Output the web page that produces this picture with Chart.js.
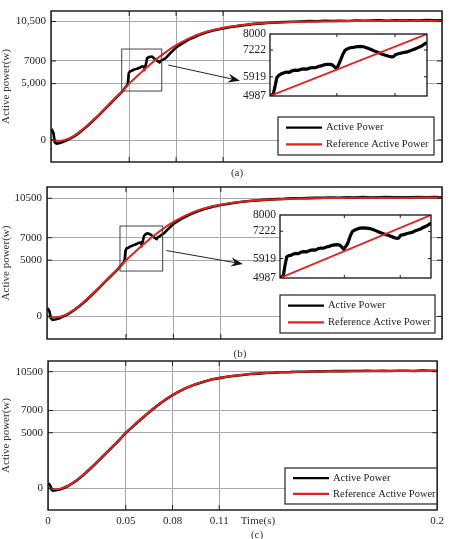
<!DOCTYPE html>
<html>
<head>
<meta charset="utf-8">
<script src="https://cdn.jsdelivr.net/npm/chart.js@4.4.1/dist/chart.umd.min.js"></script>
<style>
  html, body { margin: 0; padding: 0; background: #fff; }
  #wrap { position: relative; width: 449px; height: 539px; overflow: hidden; }
  canvas { position: absolute; }
</style>
</head>
<body>
<div id="wrap">
  <canvas id="chartA" style="left:0;top:-4px" width="449" height="184"></canvas>
  <canvas id="chartB" style="left:0;top:170px" width="449" height="189"></canvas>
  <canvas id="chartC" style="left:0;top:346px" width="449" height="193"></canvas>
  <canvas id="insetA" style="left:236px;top:20px" width="193" height="90"></canvas>
  <canvas id="insetB" style="left:246px;top:201px" width="187" height="91"></canvas>
</div>
<script>
// reference power (same in all three cases)
const timeRef = [0, 0.001, 0.002, 0.003, 0.005, 0.0075, 0.01, 0.0125, 0.015, 0.0175, 0.02, 0.0225, 0.025, 0.0275,
  0.03, 0.0325, 0.035, 0.0375, 0.04, 0.0425, 0.045, 0.0475, 0.05, 0.0525, 0.055, 0.0575, 0.06, 0.0625, 0.065,
  0.0675, 0.07, 0.0725, 0.075, 0.0775, 0.08, 0.085, 0.09, 0.095, 0.1, 0.105, 0.11, 0.115, 0.12, 0.125, 0.13,
  0.135, 0.14, 0.145, 0.15, 0.16, 0.17, 0.18, 0.19, 0.2, 0.21, 0.22, 0.23, 0.24, 0.25];
const refPower = [0, -10, -30, -50, -80, -50, 60, 200, 400, 630, 900, 1190, 1500, 1820,
  2150, 2500, 2850, 3200, 3550, 3900, 4250, 4620, 5000, 5330, 5650, 5970, 6280, 6580, 6880,
  7170, 7440, 7700, 7950, 8180, 8400, 8790, 9120, 9390, 9610, 9790, 9930, 10050, 10140, 10220, 10290,
  10340, 10380, 10410, 10440, 10480, 10510, 10530, 10540, 10550, 10555, 10560, 10560, 10565, 10565];

// measured active power
const timeBlack = [0, 0.0008, 0.0016, 0.0024, 0.0035, 0.005, 0.0075, 0.01, 0.0125, 0.015, 0.0175, 0.02, 0.0225,
  0.025, 0.0275, 0.03, 0.0325, 0.035, 0.0375, 0.04, 0.0425, 0.045, 0.0475, 0.0485, 0.0491, 0.0497, 0.0504,
  0.0515, 0.0528, 0.054, 0.0555, 0.057, 0.0583, 0.0592, 0.0599, 0.0606, 0.0614, 0.0623, 0.0634, 0.0646, 0.0658,
  0.067, 0.0682, 0.0694, 0.0701, 0.0711, 0.0726, 0.0741, 0.0755, 0.0775, 0.08, 0.0825, 0.085, 0.0875, 0.09,
  0.095, 0.1, 0.105, 0.11, 0.115, 0.12, 0.125, 0.13, 0.135, 0.14, 0.145, 0.15, 0.155, 0.16, 0.165, 0.17, 0.175,
  0.18, 0.185, 0.19, 0.195, 0.2, 0.205, 0.21, 0.215, 0.22, 0.225, 0.23, 0.235, 0.24, 0.245, 0.25];
const powerA = [750, 850, 600, -200, -320, -280, -180, -20, 140, 350, 590, 860, 1150,
  1460, 1790, 2120, 2470, 2820, 3170, 3520, 3870, 4220, 4650, 4820, 4980, 5900, 6060,
  6130, 6220, 6280, 6340, 6420, 6530, 6500, 6320, 6650, 7230, 7330, 7380, 7390, 7250,
  7110, 6980, 6890, 7010, 7080, 7180, 7360, 7580, 7850, 8200, 8430, 8650, 8850, 9020,
  9320, 9560, 9750, 9890, 10010, 10110, 10200, 10290, 10330, 10390, 10420, 10460, 10480, 10500, 10530, 10520, 10560,
  10540, 10570, 10550, 10590, 10560, 10580, 10600, 10570, 10610, 10580, 10600, 10590, 10620, 10600, 10610];
const powerB = [600, 650, 450, -150, -300, -260, -170, -10, 150, 360, 600, 870, 1160,
  1470, 1800, 2130, 2480, 2830, 3180, 3530, 3880, 4230, 4640, 4810, 4960, 5850, 6050,
  6110, 6230, 6290, 6380, 6460, 6560, 6570, 6360, 6660, 7150, 7300, 7380, 7360, 7250,
  7100, 6990, 6880, 7030, 7100, 7260, 7400, 7600, 7880, 8220, 8450, 8670, 8860, 9030,
  9330, 9570, 9760, 9900, 10020, 10120, 10210, 10280, 10340, 10380, 10430, 10450, 10490, 10510, 10520, 10540, 10550,
  10570, 10550, 10580, 10560, 10600, 10570, 10590, 10610, 10580, 10600, 10590, 10620, 10600, 10610, 10600];
const powerC = [450, 380, 200, -150, -220, -180, -110, 30, 180, 390, 620, 890, 1180,
  1490, 1810, 2140, 2490, 2840, 3190, 3540, 3890, 4240, 4610, 4760, 4850, 4940, 5040,
  5180, 5350, 5500, 5690, 5880, 6050, 6150, 6250, 6330, 6430, 6530, 6660, 6810, 6950,
  7090, 7220, 7360, 7430, 7530, 7690, 7840, 7980, 8160, 8390, 8600, 8780, 8950, 9110,
  9380, 9600, 9790, 9920, 10040, 10140, 10210, 10290, 10330, 10390, 10410, 10450, 10460, 10490, 10500, 10520, 10530,
  10540, 10560, 10550, 10570, 10560, 10580, 10570, 10590, 10570, 10580, 10590, 10570, 10600, 10580, 10590];

// zoomed windows (4987..8000 W)
const insetTime = [0.0485, 0.0488, 0.0491, 0.0494, 0.0497, 0.05, 0.0504, 0.0508, 0.0513, 0.0518, 0.0523, 0.0528,
  0.0533, 0.0538, 0.0543, 0.0548, 0.0553, 0.0558, 0.0563, 0.0568, 0.0573, 0.0578, 0.0583, 0.0588, 0.0592, 0.0596,
  0.0599, 0.0602, 0.0606, 0.061, 0.0614, 0.0618, 0.0623, 0.0628, 0.0634, 0.064, 0.0646, 0.0652, 0.0658, 0.0664,
  0.067, 0.0676, 0.0682, 0.0688, 0.0694, 0.0697, 0.0701, 0.0706, 0.0711, 0.0716, 0.0721, 0.0726, 0.0731, 0.0736,
  0.0741, 0.0746, 0.0751, 0.0755];
const insetPowerA = [5000, 5010, 5120, 5500, 5900, 5980, 6060, 6100, 6150, 6140, 6210, 6240, 6230, 6280, 6300,
  6290, 6340, 6370, 6360, 6420, 6450, 6500, 6530, 6520, 6500, 6400, 6320, 6450, 6700, 7000, 7200, 7280, 7330,
  7350, 7380, 7400, 7380, 7320, 7260, 7180, 7110, 7040, 6980, 6930, 6890, 6900, 7000, 7040, 7080, 7110, 7130,
  7180, 7240, 7290, 7360, 7420, 7520, 7580];
const insetPowerB = [5020, 5040, 5110, 5600, 5990, 6050, 6070, 6120, 6160, 6150, 6230, 6250, 6240, 6300, 6330,
  6320, 6390, 6420, 6410, 6470, 6500, 6550, 6570, 6580, 6560, 6450, 6360, 6480, 6640, 6950, 7200, 7270, 7330,
  7370, 7380, 7370, 7350, 7300, 7230, 7160, 7100, 7050, 6990, 6930, 6880, 6900, 7030, 7060, 7100, 7140, 7170,
  7230, 7280, 7330, 7400, 7460, 7540, 7610];
const insetRefTime = [0.0485, 0.0755];
const insetRefPower = [4987, 8000];

// axis ticks
const xTickValues = [0, 0.05, 0.08, 0.11, 0.25];
const xTickLabels = ['0', '0.05', '0.08', '0.11', '0.2'];
const yTickValues = [0, 5000, 7000, 10500];
const yTickLabelsA = ['0', '5,000', '7000', '10,500'];
const yTickLabelsBC = ['0', '5000', '7000', '10500'];
const insetYTicks = [4987, 5919, 7222, 8000];
const insetXTicks = [0.06, 0.07];

const SERIF = '"Liberation Serif", "Times New Roman", serif';
const GRID = '#a8a8a8';
const RED = '#e3211f';

function pts(xs, ys) {
  return xs.map((x, i) => ({ x: x, y: ys[i] }));
}

// box around the plot with small inward ticks, matlab style
const framePlugin = {
  id: 'frame',
  afterDatasetsDraw(chart, args, opts) {
    const { ctx, chartArea: a, scales } = chart;
    const len = opts.tick || 4;
    ctx.save();
    ctx.strokeStyle = '#222';
    ctx.lineWidth = 1;
    ctx.beginPath();
    scales.x.ticks.forEach(t => {
      const px = scales.x.getPixelForValue(t.value);
      if (px <= a.left + 1 || px >= a.right - 1) return;
      ctx.moveTo(px, a.bottom); ctx.lineTo(px, a.bottom - len);
      ctx.moveTo(px, a.top); ctx.lineTo(px, a.top + len);
    });
    scales.y.ticks.forEach(t => {
      const py = scales.y.getPixelForValue(t.value);
      if (py <= a.top + 1 || py >= a.bottom - 1) return;
      ctx.moveTo(a.left, py); ctx.lineTo(a.left + len, py);
      ctx.moveTo(a.right, py); ctx.lineTo(a.right - len, py);
    });
    ctx.stroke();
    ctx.lineWidth = opts.width || 1.4;
    ctx.strokeStyle = '#111';
    ctx.strokeRect(a.left, a.top, a.right - a.left, a.bottom - a.top);
    ctx.restore();
  }
};

const whiteArea = {
  id: 'whiteArea',
  beforeDraw(chart, args, opts) {
    if (!opts.on) return;
    const { ctx, chartArea: a } = chart;
    ctx.save();
    ctx.fillStyle = '#fff';
    ctx.fillRect(a.left, a.top, a.right - a.left, a.bottom - a.top);
    ctx.restore();
  }
};

// zoom box and arrow pointing at the inset
const zoomMark = {
  id: 'zoomMark',
  afterDatasetsDraw(chart, args, opts) {
    if (!opts.box) return;
    const { ctx, scales: { x, y } } = chart;
    const b = opts.box;
    const x0 = x.getPixelForValue(b[0]), x1 = x.getPixelForValue(b[1]);
    const y0 = y.getPixelForValue(b[3]), y1 = y.getPixelForValue(b[2]);
    ctx.save();
    ctx.strokeStyle = '#444';
    ctx.lineWidth = 1;
    ctx.strokeRect(x0, y0, x1 - x0, y1 - y0);
    const ax = x.getPixelForValue(opts.from[0]), ay = y.getPixelForValue(opts.from[1]);
    const bx = x.getPixelForValue(opts.to[0]), by = y.getPixelForValue(opts.to[1]);
    const ang = Math.atan2(by - ay, bx - ax);
    ctx.strokeStyle = '#222';
    ctx.beginPath();
    ctx.moveTo(ax, ay);
    ctx.lineTo(bx - 8 * Math.cos(ang), by - 8 * Math.sin(ang));
    ctx.stroke();
    ctx.fillStyle = '#111';
    ctx.beginPath();
    ctx.moveTo(bx, by);
    ctx.lineTo(bx - 12 * Math.cos(ang) + 4.5 * Math.sin(ang), by - 12 * Math.sin(ang) - 4.5 * Math.cos(ang));
    ctx.lineTo(bx - 8 * Math.cos(ang), by - 8 * Math.sin(ang));
    ctx.lineTo(bx - 12 * Math.cos(ang) - 4.5 * Math.sin(ang), by - 12 * Math.sin(ang) + 4.5 * Math.cos(ang));
    ctx.closePath();
    ctx.fill();
    ctx.restore();
  }
};

const boxLegend = {
  id: 'boxLegend',
  afterDatasetsDraw(chart, args, opts) {
    if (!opts.box) return;
    const ctx = chart.ctx;
    const [l, t, r, b] = opts.box;
    const h = b - t;
    ctx.save();
    ctx.fillStyle = '#fff';
    ctx.fillRect(l, t, r - l, h);
    ctx.strokeStyle = '#222';
    ctx.lineWidth = 1.2;
    ctx.strokeRect(l, t, r - l, h);
    ctx.font = '10.5px ' + SERIF;
    ctx.textBaseline = 'middle';
    chart.data.datasets.forEach((ds, i) => {
      const yy = t + h * (i === 0 ? 0.28 : 0.72);
      ctx.strokeStyle = ds.borderColor;
      ctx.lineWidth = 2.2;
      ctx.beginPath();
      ctx.moveTo(l + 8, yy);
      ctx.lineTo(l + 44, yy);
      ctx.stroke();
      ctx.fillStyle = '#222';
      ctx.fillText(ds.label, l + 48, yy);
    });
    ctx.restore();
  }
};

const captions = {
  id: 'captions',
  afterDraw(chart, args, opts) {
    const ctx = chart.ctx;
    (opts.items || []).forEach(c => {
      ctx.save();
      ctx.font = '11px ' + SERIF;
      ctx.fillStyle = '#333';
      ctx.textAlign = 'center';
      ctx.textBaseline = 'middle';
      ctx.fillText(c.text, c.x, c.y);
      ctx.restore();
    });
  }
};

Chart.register(framePlugin, whiteArea, zoomMark, boxLegend, captions);

function mainChart(id, cfg) {
  return new Chart(document.getElementById(id), {
    type: 'line',
    data: {
      datasets: [
        { label: 'Active Power', data: pts(timeBlack, cfg.power), borderColor: '#000', borderWidth: 2.6,
          pointRadius: 0, tension: 0, order: 1 },
        { label: 'Reference Active Power', data: pts(timeRef, refPower), borderColor: RED, borderWidth: 2,
          pointRadius: 0, cubicInterpolationMode: 'monotone', order: 0 }
      ]
    },
    options: {
      responsive: false,
      animation: false,
      layout: { padding: { top: cfg.top, right: 7, left: 0, bottom: 0 } },
      scales: {
        x: {
          type: 'linear', min: 0, max: 0.25,
          afterBuildTicks: s => { s.ticks = xTickValues.map(v => ({ value: v })); },
          afterFit: s => { s.height = cfg.xHeight; },
          ticks: {
            display: cfg.showX, autoSkip: false, maxRotation: 0, padding: 5, color: '#222',
            font: { family: SERIF, size: 11 },
            callback: v => xTickLabels[xTickValues.indexOf(v)]
          },
          grid: { color: GRID, lineWidth: 1, drawTicks: false },
          border: { display: false }
        },
        y: {
          type: 'linear', min: cfg.yMin, max: cfg.yMax,
          afterBuildTicks: s => { s.ticks = yTickValues.map(v => ({ value: v })); },
          afterFit: s => { s.width = cfg.left; },
          ticks: {
            padding: 5, color: '#222', font: { family: SERIF, size: 11 },
            callback: v => cfg.yLabels[yTickValues.indexOf(v)]
          },
          grid: { color: GRID, lineWidth: 1, drawTicks: false },
          border: { display: false },
          title: { display: true, text: 'Active power(w)', color: '#333',
            font: { family: SERIF, size: 11 }, padding: { top: 0, bottom: 0 } }
        }
      },
      plugins: {
        legend: { display: false },
        tooltip: { enabled: false },
        frame: { tick: 5 },
        zoomMark: cfg.zoom || {},
        boxLegend: { box: cfg.legend },
        captions: { items: cfg.captions }
      }
    }
  });
}

function insetChart(id, power) {
  return new Chart(document.getElementById(id), {
    type: 'line',
    data: {
      datasets: [
        { label: 'Active Power', data: pts(insetTime, power), borderColor: '#000', borderWidth: 3.2,
          pointRadius: 0, tension: 0, order: 1 },
        { label: 'Reference Active Power', data: pts(insetRefTime, insetRefPower), borderColor: RED,
          borderWidth: 1.8, pointRadius: 0, order: 0 }
      ]
    },
    options: {
      responsive: false,
      animation: false,
      layout: { padding: { top: 14, right: 2, left: 0, bottom: 0 } },
      scales: {
        x: {
          type: 'linear', min: insetRefTime[0], max: insetRefTime[1],
          afterBuildTicks: s => { s.ticks = insetXTicks.map(v => ({ value: v })); },
          afterFit: s => { s.height = 14; },
          ticks: { display: false },
          grid: { display: false, drawTicks: false },
          border: { display: false }
        },
        y: {
          type: 'linear', min: 4987, max: 8000,
          afterBuildTicks: s => { s.ticks = insetYTicks.map(v => ({ value: v })); },
          afterFit: s => { s.width = 34; },
          ticks: { padding: 4, color: '#222', font: { family: SERIF, size: 11.5 },
            callback: v => String(v) },
          grid: { display: false, drawTicks: false },
          border: { display: false }
        }
      },
      plugins: {
        legend: { display: false },
        tooltip: { enabled: false },
        whiteArea: { on: true },
        frame: { tick: 3, width: 1.3 }
      }
    }
  });
}

mainChart('chartA', {
  power: powerA, top: 15, xHeight: 18, left: 51, showX: false,
  yMin: -1949, yMax: 11430, yLabels: yTickLabelsA,
  zoom: { box: [0.0452, 0.0708, 4340, 8060], from: [0.075, 6640], to: [0.1208, 5250] },
  legend: [278, 121, 434, 159],
  captions: [{ text: '(a)', x: 237, y: 177 }]
});
mainChart('chartB', {
  power: powerB, top: 17, xHeight: 20, left: 47, showX: false,
  yMin: -1999, yMax: 11504, yLabels: yTickLabelsBC,
  zoom: { box: [0.0462, 0.0732, 4040, 8037], from: [0.0756, 5860], to: [0.124, 4660] },
  legend: [280, 125, 435, 163],
  captions: [{ text: '(b)', x: 240, y: 184 }]
});
mainChart('chartC', {
  power: powerC, top: 15, xHeight: 29, left: 48, showX: true,
  yMin: -1954, yMax: 11464, yLabels: yTickLabelsBC,
  legend: [285, 122, 437, 158],
  captions: [{ text: 'Time(s)', x: 258, y: 175 }, { text: '(c)', x: 257, y: 189 }]
});
insetChart('insetA', insetPowerA);
insetChart('insetB', insetPowerB);
</script>
</body>
</html>
